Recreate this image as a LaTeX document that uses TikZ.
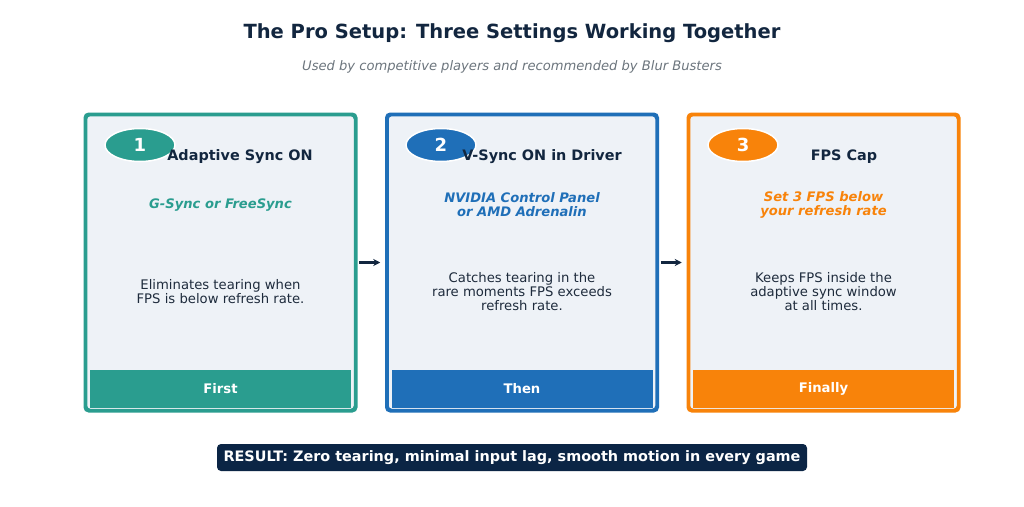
\documentclass[tikz,border=0pt]{standalone}
\usepackage{fontspec}
\setmainfont{DejaVu Sans}
\usetikzlibrary{positioning,shapes.geometric,arrows.meta}
\definecolor{navy}{HTML}{12263F}
\definecolor{darknavy}{HTML}{0B2545}
\definecolor{tealc}{HTML}{2A9D8F}
\definecolor{bluec}{HTML}{1F6FB8}
\definecolor{orangec}{HTML}{F8830A}
\definecolor{cardbg}{HTML}{EEF2F7}
\definecolor{subgray}{HTML}{6C757D}
\definecolor{bodytext}{HTML}{1E2B3C}

\begin{document}
\begin{tikzpicture}[x=1pt, y=-1pt,
        card/.style={draw=#1, fill=cardbg, line width=2.5pt, rounded corners=4pt, minimum width=269pt, minimum height=295pt, inner sep=0pt},
        band/.style={fill=#1, text=white, font=\bfseries\fontsize{13.2}{15}\selectfont, minimum width=261pt, minimum height=38pt, inner sep=0pt},
        badge/.style={ellipse, fill=#1, draw=white, line width=1.5pt, text=white, font=\bfseries\fontsize{18}{20}\selectfont, minimum width=70pt, minimum height=33pt, inner sep=0pt},
        heading/.style={text=navy, font=\bfseries\fontsize{14.4}{16}\selectfont},
        tagline/.style={text=#1, align=center, font=\bfseries\itshape\fontsize{13.1}{14}\selectfont},
        desc/.style={text=bodytext, align=center, font=\fontsize{13.2}{14}\selectfont},
        flow/.style={-{Stealth[length=7pt,width=7pt]}, line width=2.5pt, navy, shorten <=3pt, shorten >=6pt}
    ]
    \useasboundingbox[fill=white] (0,0) rectangle (1024,506);

    % Title
    \node[text=navy, font=\bfseries\fontsize{19.5}{22}\selectfont] (title) at (512,33) {The Pro Setup: Three Settings Working Together};
    \node[text=subgray, font=\itshape\fontsize{13.1}{15}\selectfont] (subtitle) at (512,67) {Used by competitive players and recommended by Blur Busters};

    % Cards
    \node[card=tealc] (C1) at (220.5,262.5) {};
    \node[card=bluec] (C2) at (522,262.5) {};
    \node[card=orangec] (C3) at (823.5,262.5) {};

    % Bottom bands
    \node[band=tealc] (B1) at (220.5,389) {First};
    \node[band=bluec] (B2) at (522,389) {Then};
    \node[band=orangec] (B3) at (823.5,389) {Finally};
    \draw[tealc, line width=2.5pt, rounded corners=4pt] (C1.north west) rectangle (C1.south east);
    \draw[bluec, line width=2.5pt, rounded corners=4pt] (C2.north west) rectangle (C2.south east);
    \draw[orangec, line width=2.5pt, rounded corners=4pt] (C3.north west) rectangle (C3.south east);

    % Number badges
    \node[badge=tealc] (N1) at (140,145) {1};
    \node[badge=bluec] (N2) at (441,145) {2};
    \node[badge=orangec] (N3) at (743,145) {3};

    % Headings
    \node[heading] (H1) at (240,157) {Adaptive Sync ON};
    \node[heading] (H2) at (542,157) {V-Sync ON in Driver};
    \node[heading] (H3) at (844,157) {FPS Cap};

    % Taglines
    \node[tagline=tealc] (T1) at (220.5,205) {G-Sync or FreeSync};
    \node[tagline=bluec] (T2) at (522,205) {NVIDIA Control Panel\\or AMD Adrenalin};
    \node[tagline=orangec] (T3) at (823.5,205) {Set 3 FPS below\\your refresh rate};

    % Descriptions
    \node[desc] (D1) at (220.5,291.5) {Eliminates tearing when\\FPS is below refresh rate.};
    \node[desc] (D2) at (522,292) {Catches tearing in the\\rare moments FPS exceeds\\refresh rate.};
    \node[desc] (D3) at (823.5,292) {Keeps FPS inside the\\adaptive sync window\\at all times.};

    % Arrows between cards
    \draw[flow] (C1.east) -- (C2.west);
    \draw[flow] (C2.east) -- (C3.west);

    % Result
    \node[fill=darknavy, text=white, rounded corners=4pt, minimum width=590pt, minimum height=27pt, inner sep=0pt, font=\bfseries\fontsize{14.4}{16}\selectfont] (R) at (512,457.5) {RESULT: Zero tearing, minimal input lag, smooth motion in every game};
\end{tikzpicture}
\end{document}
